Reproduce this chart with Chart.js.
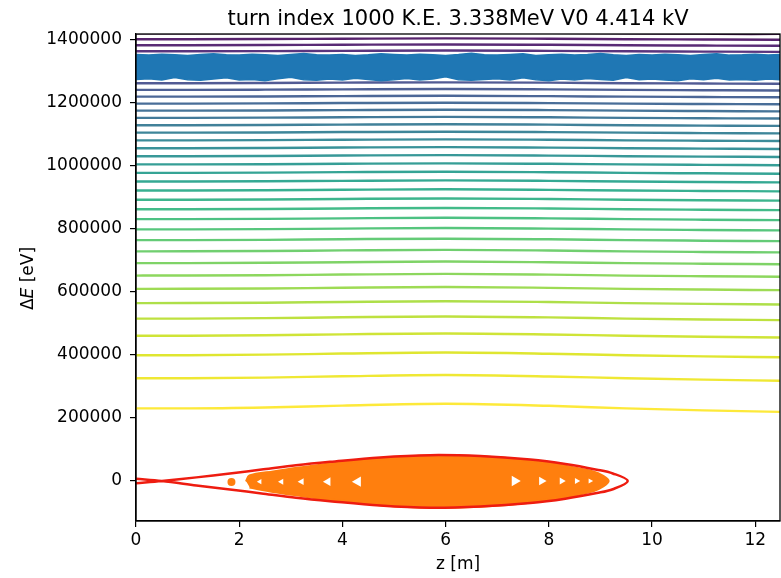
<!DOCTYPE html>
<html><head><meta charset="utf-8">
<script src="https://cdn.jsdelivr.net/npm/chart.js@4/dist/chart.umd.min.js"></script>
<style>html,body{margin:0;padding:0;background:#fff}</style>
</head><body>
<canvas id="c" width="781" height="578"></canvas>
<script>
// ---------- data ----------
const titleText = "turn index 1000 K.E. 3.338MeV V0 4.414 kV";
const xTicks = [0, 2, 4, 6, 8, 10, 12];
const yTicks = [0, 200000, 400000, 600000, 800000, 1000000, 1200000, 1400000];
const xRange = [0, 12.48];
const yRange = [-126800, 1418000];

// contour lines: ΔE [eV] sampled at zGrid [m]
const zGrid = [0, 1, 2.5, 4, 6, 8, 9.5, 11, 12.48];
const contourLines = [
 [230500, 230600, 233400, 239300, 244900, 238700, 230500, 224200, 219300],
 [325900, 325900, 328000, 332200, 336200, 331800, 325900, 321500, 318100],
 [399100, 399200, 400800, 404300, 407600, 403900, 399100, 395500, 392700],
 [460900, 460900, 462300, 465300, 468200, 465000, 460900, 457700, 455300],
 [515200, 515300, 516600, 519300, 521900, 519000, 515300, 512500, 510400],
 [564400, 564500, 565600, 568100, 570500, 567900, 564400, 561900, 560000],
 [609600, 609700, 610800, 613100, 615300, 612800, 609600, 607300, 605500],
 [651700, 651800, 652800, 654900, 657000, 654700, 651700, 649600, 647900],
 [691200, 691300, 692200, 694200, 696200, 694000, 691200, 689200, 687600],
 [728600, 728700, 729600, 731500, 733300, 731300, 728600, 726700, 725200],
 [764200, 764300, 765100, 767000, 768700, 766800, 764200, 762400, 760900],
 [798100, 798200, 799000, 800700, 802400, 800500, 798100, 796400, 795000],
 [830700, 830800, 831500, 833200, 834900, 833100, 830700, 829000, 827700],
 [862100, 862100, 862900, 864500, 866100, 864400, 862100, 860500, 859200],
 [892300, 892300, 893100, 894700, 896200, 894500, 892300, 890700, 889500],
 [921600, 921600, 922400, 923900, 925300, 923700, 921600, 920100, 918900],
 [950000, 950000, 950700, 952200, 953600, 952100, 950000, 948500, 947400],
 [977500, 977500, 978200, 979700, 981000, 979500, 977500, 976100, 974900],
 [1004300, 1004300, 1005000, 1006400, 1007700, 1006200, 1004300, 1002900, 1001800],
 [1030400, 1030400, 1031100, 1032400, 1033700, 1032300, 1030400, 1029000, 1028000],
 [1055800, 1055800, 1056500, 1057800, 1059100, 1057600, 1055800, 1054500, 1053400],
 [1080700, 1080700, 1081300, 1082600, 1083900, 1082500, 1080700, 1079400, 1078400],
 [1105000, 1105000, 1105600, 1106900, 1108100, 1106800, 1105000, 1103700, 1102700],
 [1128700, 1128700, 1129300, 1130600, 1131800, 1130400, 1128700, 1127500, 1126500],
 [1152000, 1152000, 1152600, 1153800, 1155000, 1153700, 1152000, 1150800, 1149800],
 [1174800, 1174800, 1175400, 1176600, 1177700, 1176500, 1174800, 1173600, 1172700],
 [1197200, 1197200, 1197800, 1199000, 1200100, 1198800, 1197200, 1196000, 1195100],
 [1219200, 1219200, 1219800, 1220900, 1222000, 1220800, 1219200, 1218100, 1217200],
 [1240800, 1240800, 1241400, 1242500, 1243600, 1242400, 1240800, 1239700, 1238800],
 [1262000, 1262000, 1262600, 1263700, 1264700, 1263600, 1262000, 1260900, 1260000],
 [1282800, 1282800, 1283400, 1284400, 1285500, 1284300, 1282800, 1281700, 1280900],
 [1303300, 1303300, 1303800, 1304900, 1306000, 1304800, 1303300, 1302200, 1301400],
 [1323500, 1323500, 1324000, 1325100, 1326100, 1325000, 1323500, 1322400, 1321600],
 [1343400, 1343400, 1343900, 1345000, 1346000, 1344900, 1343400, 1342400, 1341500],
 [1363100, 1363100, 1363600, 1364600, 1365600, 1364500, 1363100, 1362100, 1361300],
 [1382400, 1382400, 1382900, 1383900, 1384900, 1383800, 1382400, 1381400, 1380600],
 [1401500, 1401500, 1402000, 1403000, 1404000, 1402900, 1401500, 1400500, 1399700],
 [1420300, 1420300, 1420800, 1421800, 1422700, 1421700, 1420300, 1419300, 1418500]
];

// separatrix (red), drawn as one path through the X point
const sepZ = [0, 0.5, 1.17, 1.82, 2.47, 3.1, 3.76, 4.73, 5.7, 6.67, 7.64, 8.32, 8.93, 9.24, 9.53,
              9.24, 8.93, 8.32, 7.64, 6.67, 5.7, 4.73, 3.76, 3.1, 2.47, 1.82, 1.17, 0.5, 0];
const sepDE = [-7000, 0, 11600, 24000, 37000, 50000, 61000, 75000, 82000, 79000, 68000, 54000, 36000, 24000, 0,
               -26000, -38000, -56000, -70000, -81000, -85000, -78000, -64000, -53000, -40000, -27000, -14000, 0, 7000];

// orange bunch (outline of the dense cloud)
const bunchZ = [2.14, 2.2, 2.66, 3.2, 3.76, 4.73, 5.7, 6.67, 7.64, 8.32, 8.86, 9.05, 9.15,
                9.05, 8.86, 8.32, 7.64, 6.67, 5.7, 4.73, 3.76, 3.2, 2.66, 2.2];
const bunchDE = [-2000, 16000, 29000, 42000, 54000, 70000, 79000, 77000, 64000, 47000, 29000, 15000, 0,
                 -16000, -31000, -50000, -67000, -80000, -83000, -75000, -59000, -46000, -33000, -19000];
const strayZ = [1.85];
const strayDE = [-3000];
// white gaps in the bunch
const gapLeftZ = [2.4, 2.82, 3.21, 3.72, 4.3];
const gapLeftDE = [-2000, -2000, -2000, -2000, -2000];
const gapRightZ = [7.34, 7.86, 8.25, 8.54, 8.8];
const gapRightDE = [0, 0, 0, 0, 0];

// blue band (outline of the dense cloud)
const bandZ = [0, 0.25, 0.5, 0.75, 1, 1.25, 1.5, 1.75, 2, 2.25, 2.5, 2.75, 3, 3.25, 3.5, 3.75, 4, 4.25, 4.5, 4.75,
               5, 5.25, 5.5, 5.75, 6, 6.25, 6.5, 6.75, 7, 7.25, 7.5, 7.75, 8, 8.25, 8.5, 8.75, 9, 9.25, 9.5, 9.75,
               10, 10.25, 10.5, 10.75, 11, 11.25, 11.5, 11.75, 12, 12.25, 12.48];
const bandTop = [1353000, 1351000, 1354000, 1352000, 1350000, 1353000, 1355000, 1352000, 1351000, 1354000,
                 1352000, 1350000, 1353000, 1356000, 1352000, 1351000, 1353000, 1350000, 1352000, 1355000,
                 1353000, 1351000, 1354000, 1352000, 1350000, 1353000, 1357000, 1352000, 1351000, 1353000,
                 1355000, 1350000, 1352000, 1354000, 1351000, 1353000, 1356000, 1352000, 1350000, 1353000,
                 1351000, 1354000, 1352000, 1350000, 1353000, 1355000, 1351000, 1352000, 1354000, 1351000, 1353000];
const bandBottom = [1274000, 1276000, 1272000, 1280000, 1273000, 1271000, 1275000, 1279000, 1272000, 1274000,
                    1270000, 1276000, 1281000, 1273000, 1271000, 1275000, 1272000, 1278000, 1274000, 1270000,
                    1273000, 1277000, 1272000, 1275000, 1282000, 1273000, 1271000, 1274000, 1276000, 1272000,
                    1279000, 1273000, 1270000, 1275000, 1272000, 1277000, 1274000, 1271000, 1280000, 1273000,
                    1275000, 1272000, 1270000, 1276000, 1273000, 1278000, 1272000, 1274000, 1271000, 1275000, 1273000];

// ---------- styles ----------
const viridis = ['#440154','#471365','#482475','#463480','#414487','#3b528b','#355f8d','#2f6c8e','#2a788e','#25848e',
 '#21918c','#1e9c89','#22a884','#2fb47c','#44bf70','#5ec962','#7ad151','#9bd93c','#bddf26','#dfe318','#fde725'];
function hex2rgb(h){return [parseInt(h.slice(1,3),16),parseInt(h.slice(3,5),16),parseInt(h.slice(5,7),16)];}
function cmap(t, a){
  t = Math.max(0, Math.min(1, t));
  const p = t*(viridis.length-1), i = Math.min(Math.floor(p), viridis.length-2), f = p - i;
  const c0 = hex2rgb(viridis[i]), c1 = hex2rgb(viridis[i+1]);
  const c = c0.map((v,j)=>Math.round(v+(c1[j]-v)*f));
  return `rgba(${c[0]},${c[1]},${c[2]},${a})`;
}
const gapRadius = [3, 3.5, 4, 5, 6];
const gapRadiusR = [6, 5, 4, 3.5, 3];

const pts = (xs, ys) => xs.map((x,i)=>({x, y: ys[i]}));
const datasets = [];
datasets.push({data: pts(sepZ, sepDE), showLine: true, borderColor: '#ee1c10', borderWidth: 2.5,
  pointRadius: 0, tension: 0.35, fill: false, order: 0});
datasets.push({data: pts(gapLeftZ, gapLeftDE), showLine: false, pointStyle: 'triangle', rotation: -90,
  pointRadius: gapRadius, backgroundColor: '#ffffff', borderWidth: 0, order: 1});
datasets.push({data: pts(gapRightZ, gapRightDE), showLine: false, pointStyle: 'triangle', rotation: 90,
  pointRadius: gapRadiusR, backgroundColor: '#ffffff', borderWidth: 0, order: 1});
datasets.push({data: pts(bunchZ, bunchDE), showLine: true, borderColor: '#ff7f0e', backgroundColor: '#ff7f0e',
  borderWidth: 3, pointRadius: 0, tension: 0.3, fill: 'shape', order: 2});
datasets.push({data: pts(strayZ, strayDE), showLine: false, pointRadius: 4, backgroundColor: '#ff7f0e',
  borderWidth: 0, order: 2});
datasets.push({data: pts(bandZ.concat(bandZ.slice().reverse()), bandTop.concat(bandBottom.slice().reverse())),
  showLine: true, borderColor: '#1f77b4', backgroundColor: '#1f77b4', borderWidth: 1.5, pointRadius: 0,
  tension: 0, fill: 'shape', order: 3});
const nLev = contourLines.length;
contourLines.forEach((line, k) => {
  datasets.push({data: pts(zGrid, line), showLine: true, borderColor: cmap(1 - k/(nLev-1), 0.9),
    borderWidth: 2.4, pointRadius: 0, cubicInterpolationMode: 'monotone', fill: false, order: 10});
});

const FONT = 'DejaVu Sans';
const textPlugin = {
  id: 'texts',
  afterDraw(chart){
    const ctx = chart.ctx, a = chart.chartArea;
    ctx.save();
    ctx.strokeStyle = '#000'; ctx.lineWidth = 1.3;
    ctx.strokeRect(a.left, a.top, a.right - a.left, a.bottom - a.top);
    ctx.fillStyle = '#000';
    ctx.font = `21px "${FONT}"`; ctx.textAlign = 'center'; ctx.textBaseline = 'alphabetic';
    ctx.fillText(titleText, (a.left + a.right)/2, 25);
    ctx.font = `17px "${FONT}"`;
    ctx.fillText('z [m]', (a.left + a.right)/2, 569);
    // y label with italic E
    ctx.translate(33, 278.5); ctx.rotate(-Math.PI/2);
    const f1 = `17px "${FONT}"`, f2 = `italic 17px "${FONT}"`;
    ctx.font = f1; const w1 = ctx.measureText('Δ').width, w3 = ctx.measureText(' [eV]').width;
    ctx.font = f2; const w2 = ctx.measureText('E').width;
    let x = -(w1+w2+w3)/2;
    ctx.textAlign = 'left';
    ctx.font = f1; ctx.fillText('Δ', x, 0); x += w1;
    ctx.font = f2; ctx.fillText('E', x, 0); x += w2;
    ctx.font = f1; ctx.fillText(' [eV]', x, 0);
    ctx.restore();
  }
};

const noPad = s => { s.paddingLeft = 0; s.paddingRight = 0; s.paddingTop = 0; s.paddingBottom = 0; };
new Chart(document.getElementById('c'), {
  type: 'scatter',
  data: {datasets},
  options: {
    responsive: false, animation: false, devicePixelRatio: 1,
    layout: {autoPadding: false, padding: {left: 0, right: 1, top: 34, bottom: 0}},
    plugins: {legend: {display: false}, tooltip: {enabled: false}, title: {display: false}},
    scales: {
      x: {type: 'linear', min: xRange[0], max: xRange[1],
        afterBuildTicks: s => { s.ticks = xTicks.map(v => ({value: v})); },
        afterFit: s => { s.height = 57; noPad(s); },
        ticks: {color: '#000', font: {family: FONT, size: 17}, padding: 3, callback: v => String(v)},
        grid: {display: true, drawOnChartArea: false, drawTicks: true, tickLength: 6, color: '#000', lineWidth: 1.2},
        border: {display: true, color: '#000', width: 1.3}},
      y: {type: 'linear', min: yRange[0], max: yRange[1],
        afterBuildTicks: s => { s.ticks = yTicks.map(v => ({value: v})); },
        afterFit: s => { s.width = 136; noPad(s); },
        ticks: {color: '#000', font: {family: FONT, size: 17}, padding: 8, callback: v => String(v)},
        grid: {display: true, drawOnChartArea: false, drawTicks: true, tickLength: 6, color: '#000', lineWidth: 1.2},
        border: {display: true, color: '#000', width: 1.3}}
    }
  },
  plugins: [textPlugin]
});
</script>
</body></html>
